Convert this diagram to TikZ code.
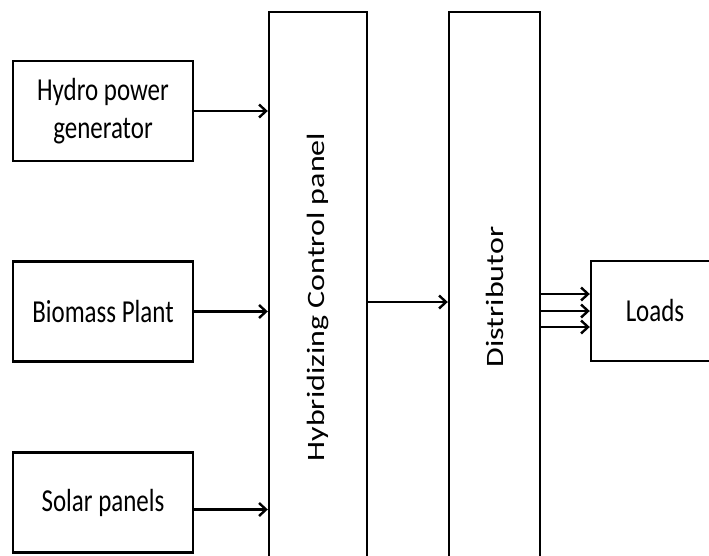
\documentclass[tikz,border=0pt]{standalone}
\usepackage{fontspec}
\setmainfont{Carlito}[FakeStretch=0.78]
\newfontfamily\vfont{Carlito}
\usetikzlibrary{positioning, arrows.meta}
\newcommand{\vlbl}[1]{\rotatebox{90}{\scalebox{1}[0.78]{\vfont #1}}}
\tikzset{
  blk/.style={draw, line width=2.4pt, align=center, inner sep=0pt,
              font=\fontsize{32}{38}\selectfont},
  src/.style={blk, minimum width=180pt, minimum height=100pt},
  tall/.style={blk, minimum height=570pt},   % runs off the bottom edge
  var/.style={-{Straight Barb[length=7pt, width=13pt]}, line width=2.4pt},
}
\begin{document}
\begin{tikzpicture}[x=1pt, y=-1pt]
        \path[use as bounding box, clip] (0,0) rectangle (709,556);
        \node[src](hyd) at (103,111){Hydro power\\generator};
        \node[src](bio) at (103,311.5){Biomass Plant};
        \node[src](sol) at (103,502.5){Solar panels};
        \node[tall, minimum width=98pt](hcp) at (318,297){\vlbl{Hybridizing Control panel}};
        \node[tall, minimum width=91pt](dist) at (494.5,297){\vlbl{Distributor}};
        \node[src, minimum width=128pt](load) at (655,311){Loads};
        \draw[var](hyd.east)--(hyd.east -| hcp.west);
        \draw[var](bio.east)--(bio.east -| hcp.west);
        \draw[var]([yshift=-7pt]sol.east)--([yshift=-7pt]sol.east -| hcp.west);
        \draw[var]([yshift=-5pt]hcp.east)--([yshift=-5pt]hcp.east -| dist.west);
        \foreach \dy in {17,0,-16}
          \draw[var]([yshift=\dy pt]load.west -| dist.east)--([yshift=\dy pt]load.west);
      \end{tikzpicture}
\end{document}
